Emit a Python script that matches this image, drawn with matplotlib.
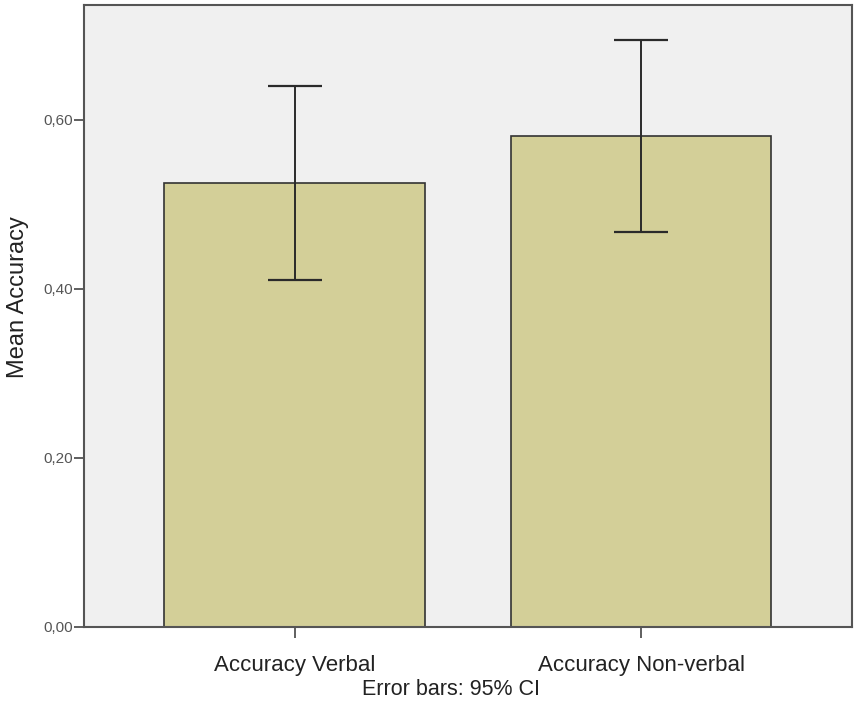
import matplotlib
matplotlib.use("Agg")
import matplotlib.pyplot as plt

categories = ["Accuracy Verbal", "Accuracy Non-verbal"]
means = [0.525, 0.581]
ci_low = [0.410, 0.467]
ci_high = [0.640, 0.695]
yticks = [0.0, 0.2, 0.4, 0.6]
ytick_labels = ["0,00", "0,20", "0,40", "0,60"]

plt.rcParams['font.family'] = ['Liberation Sans', 'DejaVu Sans']

fig = plt.figure(figsize=(8.56, 7.04), dpi=100)
ax = fig.add_axes([0.0981, 0.1094, 0.8972, 0.8835])
ax.set_facecolor('#f0f0f0')

x = list(range(len(categories)))
yerr = [[m - lo for m, lo in zip(means, ci_low)],
        [hi - m for m, hi in zip(means, ci_high)]]
ax.bar(x, means, width=0.75, color='#d3cf98', edgecolor='#333333', linewidth=1.2, zorder=2)
ax.errorbar(x, means, yerr=yerr, fmt='none', ecolor='#2a2a2a', elinewidth=1.4,
            capsize=19.5, capthick=1.6, zorder=3)

ax.set_xlim(-0.607, 1.607)
ax.set_ylim(0, 0.736)
ax.set_xticks(x)
ax.set_xticklabels(categories, fontsize=16, color='#222222')
ax.set_yticks(yticks)
ax.set_yticklabels(ytick_labels, fontsize=11, color='#555555')
ax.tick_params(axis='y', length=7, width=1.2, color='#444444', pad=1)
ax.tick_params(axis='x', length=8, width=1.2, color='#444444', pad=12)
for s in ax.spines.values():
    s.set_color('#555555')
    s.set_linewidth(1.5)

fig.text(18 / 856, 1 - 297 / 704, "Mean Accuracy", fontsize=17, color='#222222',
         rotation=90, ha='center', va='center')
fig.text(0.527, 0.02, "Error bars: 95% CI", fontsize=15.5, color='#222222', ha='center', va='center')

fig.savefig("out.png", dpi=100)
